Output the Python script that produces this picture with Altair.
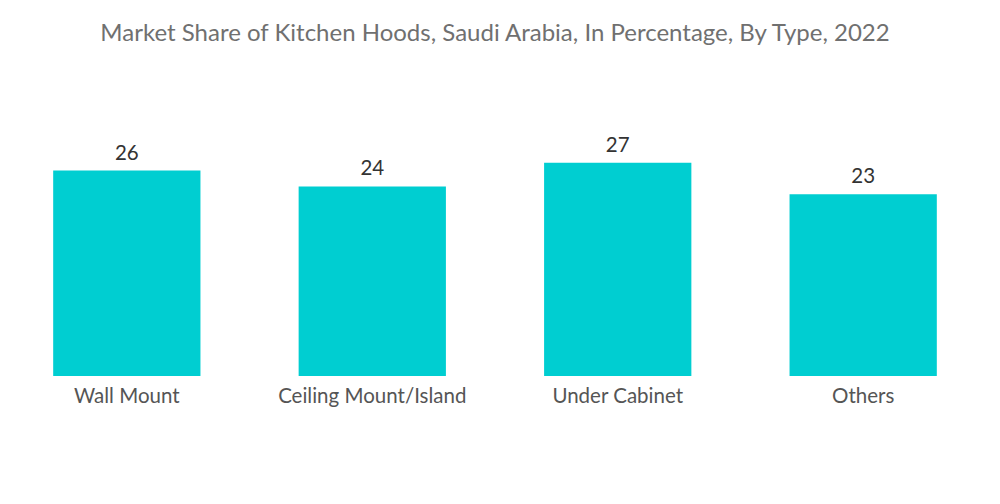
import altair as alt
import pandas as pd

categories = ["Wall Mount", "Ceiling Mount/Island", "Under Cabinet", "Others"]
values = [26, 24, 27, 23]

df = pd.DataFrame({"type": categories, "share": values})

base = alt.Chart(df).encode(
    x=alt.X("type:N", sort=categories,
            scale=alt.Scale(paddingInner=0.4, paddingOuter=0.18),
            axis=alt.Axis(title=None, labelAngle=0, domain=False, ticks=False,
                          labelFont="Lato", labelFontSize=20.5, labelColor="#555555",
                          labelPadding=10, labelLimit=400)),
    y=alt.Y("share:Q", scale=alt.Scale(domain=[0, 30]), axis=None),
)

bars = base.mark_bar(color="#00CED1")
text = base.mark_text(dy=-7, baseline="bottom", font="Lato", fontSize=20.5,
                      color="#333333").encode(text="share:Q")

chart = (bars + text).properties(
    width=972, height=237,
    title=alt.TitleParams("Market Share of Kitchen Hoods, Saudi Arabia, In Percentage, By Type, 2022",
                          font="Lato", fontSize=24, fontWeight="normal", color="#707070",
                          anchor="middle", offset=90),
    autosize=alt.AutoSizeParams(type="none"),
    padding={"left": 1, "top": 131, "right": 11, "bottom": 120},
).configure_view(stroke=None)

chart.save("out.html", embed_options={"renderer": "svg", "actions": False})
